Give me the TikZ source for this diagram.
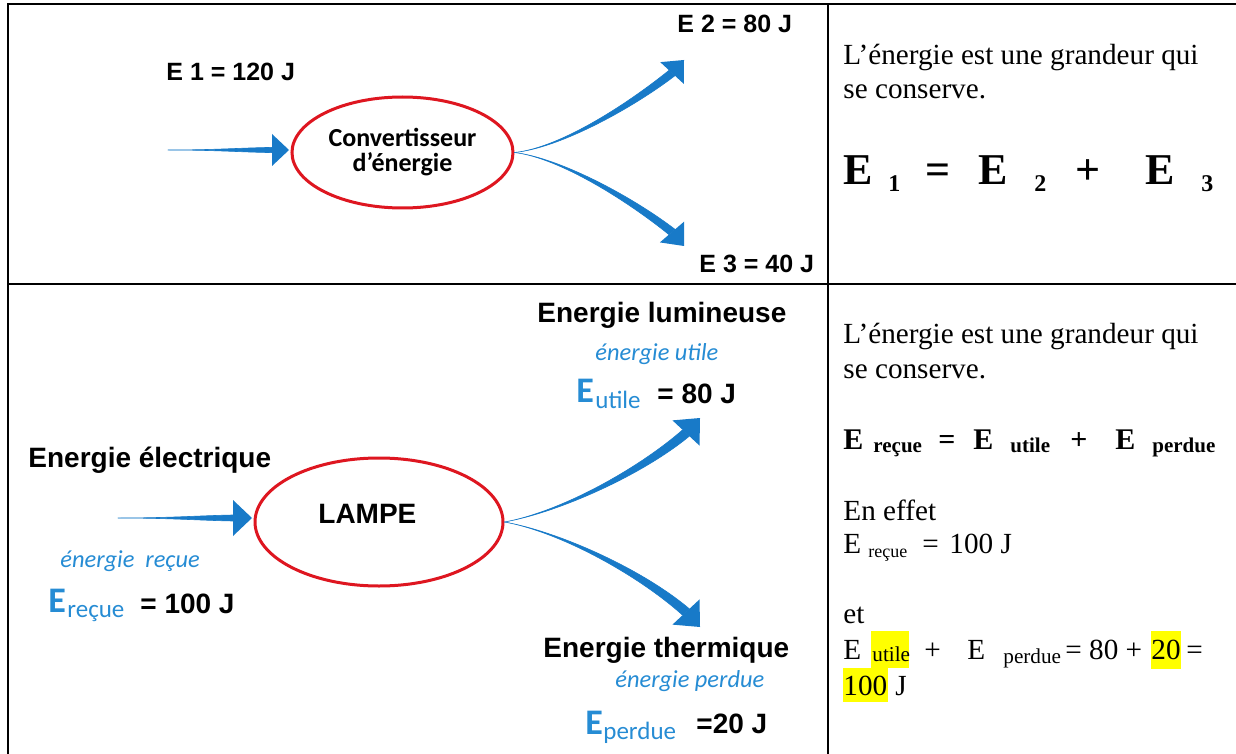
\documentclass[tikz,border=0pt]{standalone}
\usepackage{fontspec}
\setmainfont{Liberation Serif}
\newfontfamily\arialfont{Liberation Sans}
\newfontfamily\calfont{Carlito}
\usetikzlibrary{calc,shapes.geometric}

\definecolor{flowblue}{RGB}{24,122,200}
\definecolor{noteblue}{RGB}{38,140,212}
\definecolor{ringred}{RGB}{222,22,32}
\definecolor{marker}{RGB}{255,255,0}

% tapered flow arrow: #1 start, #2 first control, #3 second control,
% #4 base of the head, #5 tip, #6 shaft half width at the head, #7 head half width
\newcommand\taperflow[7]{%
  \fill[flowblue, draw=flowblue, line width=0.3pt, line join=round]
    (#1) .. controls (#2) and ($(#3)!0.8*#6!90:(#4)$) .. ($(#4)!#6!90:(#5)$)
    -- ($(#4)!#6!-90:(#5)$) .. controls ($(#3)!0.8*#6!-90:(#4)$) and (#2) .. (#1) -- cycle;
  \fill[flowblue] (#5) -- ($(#4)!#7!90:(#5)$) -- ($(#4)!#7!-90:(#5)$) -- cycle;
}

\begin{document}
\begin{tikzpicture}[x=0.5pt,y=-0.5pt,
  rule/.style={line width=1pt, black},
  ring/.style={ellipse, draw=ringred, line width=1.5pt, inner sep=0, fill=white},
  bigtag/.style={font=\arialfont\bfseries\fontsize{14}{16}\selectfont, inner sep=0, anchor=base west},
  smalltag/.style={font=\arialfont\bfseries\fontsize{12.5}{14}\selectfont, inner sep=0, anchor=base west},
  note/.style={font=\calfont\itshape\fontsize{12.2}{14}\selectfont, text=noteblue, inner sep=0, anchor=base west},
  blueE/.style={font=\calfont\bfseries\fontsize{18}{20}\selectfont, text=noteblue, inner sep=0, anchor=base west},
  blueidx/.style={font=\calfont\fontsize{12.5}{14}\selectfont, text=noteblue, inner sep=0, anchor=base west},
  prose/.style={font=\fontsize{14.6}{17}\selectfont, inner sep=0, anchor=base west},
  proseidx/.style={font=\fontsize{9}{11}\selectfont, inner sep=0, anchor=base west},
  proseidxb/.style={font=\fontsize{10.6}{12}\selectfont, inner sep=0, anchor=base west},
  hugeq/.style={font=\bfseries\fontsize{22}{26}\selectfont, inner sep=0, anchor=base west},
  hugeidx/.style={font=\bfseries\fontsize{12}{14}\selectfont, inner sep=0, anchor=base west},
  boldeq/.style={font=\bfseries\fontsize{15}{17}\selectfont, inner sep=0, anchor=base west},
  boldidx/.style={font=\bfseries\fontsize{10.5}{12}\selectfont, inner sep=0, anchor=base west},
  hilite/.style={fill=marker, draw=none}
]
\useasboundingbox (0,0) rectangle (1236,754);
\fill[white] (0,0) rectangle (1236,754);

% table rules
\draw[rule, line cap=rect] (8,754) -- (8,4) -- (1236,4);
\draw[rule] (8,284) -- (1236,284);
\draw[rule] (828,4) -- (828,754);

% ---------- first row: generic converter ----------
\node[ring, minimum width=110.5pt, minimum height=55.5pt, align=center,
      font=\calfont\bfseries\fontsize{13}{12.5}\selectfont] (conv) at (402.5,152.5)
      {Convertisseur\\d’énergie};

\coordinate (inA) at (168,150);
\coordinate (inAbase) at (272,150);
\coordinate (inAtip) at (289,150);
\taperflow{inA}{215,150}{240,150}{inAbase}{inAtip}{1.3pt}{8pt}

\coordinate (upAbase) at (672,73);
\coordinate (upAtip) at (684,60);
\taperflow{conv.east}{560,148}{630,106}{upAbase}{upAtip}{2pt}{8pt}

\coordinate (dnAbase) at (672,232);
\coordinate (dnAtip) at (684,246);
\taperflow{conv.east}{560,158}{630,199}{dnAbase}{dnAtip}{2pt}{8pt}

\node[smalltag] (e1) at (166,81) {E 1 = 120 J};
\node[smalltag] (e2) at (677,33) {E 2 = 80 J};
\node[smalltag] (e3) at (699,272) {E 3 = 40 J};

% conservation statement, first row
\node[prose] (s1a) at (843,65) {L’énergie est une grandeur qui};
\node[prose] (s1b) at (843,99) {se conserve.};
\node[hugeq]   (qa) at (843,185) {E};
\node[hugeidx] (qa1) at (888,192) {1};
\node[hugeq]   (qeq) at (925,185) {=};
\node[hugeq]   (qb) at (978,185) {E};
\node[hugeidx] (qb1) at (1034,192) {2};
\node[hugeq]   (qplus) at (1075,185) {+};
\node[hugeq]   (qc) at (1145,185) {E};
\node[hugeidx] (qc1) at (1201,192) {3};

% ---------- second row: lamp ----------
\node[ring, minimum width=124pt, minimum height=64pt] (lamp) at (379,522) {};
\node[bigtag] (lampname) at (318,523) {LAMPE};

\coordinate (inB) at (118,518);
\coordinate (inBbase) at (233,518);
\coordinate (inBtip) at (252,518);
\taperflow{inB}{170,518}{200,518}{inBbase}{inBtip}{1.5pt}{9pt}

\coordinate (upBbase) at (686,433);
\coordinate (upBtip) at (700,418);
\taperflow{lamp.east}{560,512}{640,472}{upBbase}{upBtip}{2.3pt}{9.25pt}

\coordinate (dnBbase) at (686,612);
\coordinate (dnBtip) at (700,627);
\taperflow{lamp.east}{560,532}{640,572}{dnBbase}{dnBtip}{2.3pt}{9.25pt}

\node[bigtag] (lum) at (537,322) {Energie lumineuse};
\node[note] (lumnote) at (595,360) {énergie utile};
\node[blueE] (Eu) at (576,402) {E};
\node[blueidx] (Euidx) at (595,408) {utile};
\node[bigtag] (Euval) at (657,403) {= 80 J};

\node[bigtag] (elec) at (28,467) {Energie électrique};
\node[note] (elecnote) at (60,567) {énergie~~reçue};
\node[blueE] (Er) at (48,612) {E};
\node[blueidx] (Eridx) at (67,617) {reçue};
\node[bigtag] (Erval) at (140,613) {= 100 J};

\node[bigtag] (therm) at (543,657) {Energie thermique};
\node[note] (thermnote) at (615,687) {énergie perdue};
\node[blueE] (Ep) at (585,734) {E};
\node[blueidx] (Epidx) at (603,739) {perdue};
\node[bigtag] (Epval) at (696,733) {=20 J};

% conservation statement, second row
\node[prose] (s2a) at (843,343) {L’énergie est une grandeur qui};
\node[prose] (s2b) at (843,378) {se conserve.};

\node[boldeq]  (ra) at (843,449) {E};
\node[boldidx] (ra1) at (873,452) {reçue};
\node[boldeq]  (req) at (938,449) {=};
\node[boldeq]  (rb) at (973,449) {E};
\node[boldidx] (rb1) at (1010,452) {utile};
\node[boldeq]  (rplus) at (1070,449) {+};
\node[boldeq]  (rc) at (1115,449) {E};
\node[boldidx] (rc1) at (1152,452) {perdue};

\node[prose] (effet) at (843,520) {En effet};
\node[prose] (fa) at (843,553) {E};
\node[proseidx] (fa1) at (868,557) {reçue};
\node[prose] (faeq) at (922,553) {=};
\node[prose] (faval) at (949,553) {100 J};

\node[prose] (et) at (843,623) {et};
\fill[hilite] (871,631) rectangle (909,668);
\fill[hilite] (1151,631) rectangle (1181,669);
\fill[hilite] (843,668) rectangle (888,702);
\node[prose] (ga) at (843,659) {E};
\node[proseidxb] (ga1) at (872,661) {utile};
\node[prose] (gplus) at (924,659) {+};
\node[prose] (gb) at (967,659) {E};
\node[proseidxb] (gb1) at (1003,663) {perdue};
\node[prose] (gsum) at (1065,659) {= 80 +};
\node[prose] (gtwenty) at (1151,659) {20};
\node[prose] (geq) at (1186,659) {=};
\node[prose] (ghundred) at (843,695) {100};
\node[prose] (gjoule) at (895,695) {J};
\end{tikzpicture}
\end{document}
